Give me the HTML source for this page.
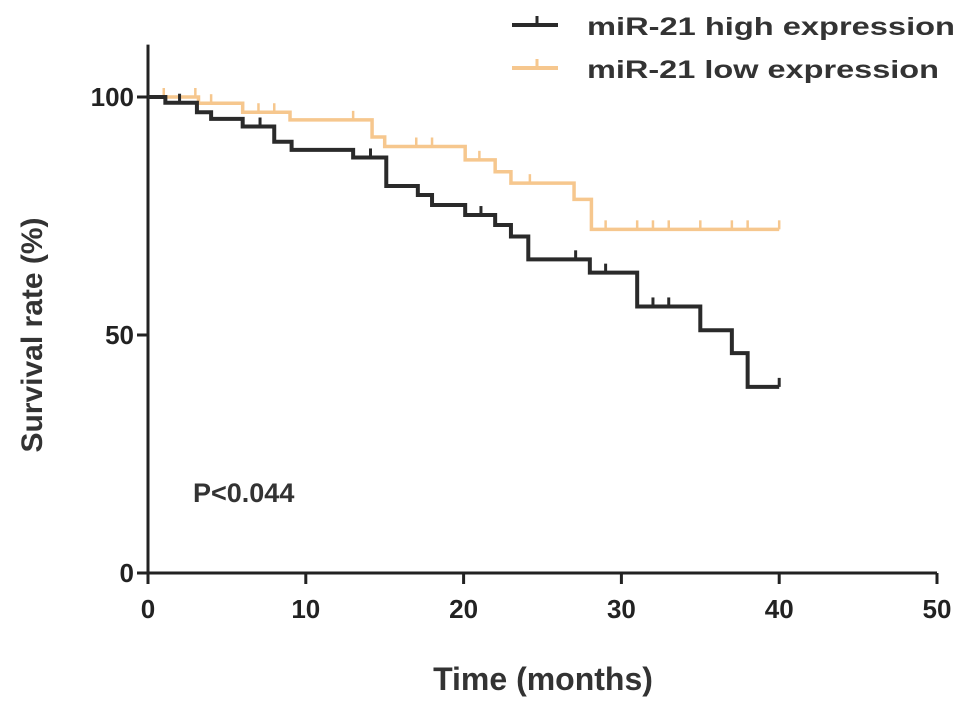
<!DOCTYPE html>
<html><head><meta charset="utf-8"><style>
body{margin:0;background:#fff;}
svg text{font-family:"Liberation Sans",sans-serif;font-weight:bold;}
</style></head><body>
<svg id="chart" width="969" height="711" viewBox="0 0 969 711"></svg>
<script>
const xTicks=[0,10,20,30,40,50];
const yTicks=[0,50,100];
const highTimes=[0,1.1,3.1,4,6,8,9.1,13,15.1,17.1,18,20.1,22,23,24.1,28,31,35,37,38,40];
const highSurv=[100,98.8,96.8,95.4,93.8,90.6,88.9,87.3,81.3,79.4,77.3,75.2,73.1,70.7,65.9,63.1,56,51,46.2,39.1,39.1];
const highCensor=[2,7.1,14.1,21.1,27.1,29,32,33,40];
const lowTimes=[0,3.2,6,9,14.2,15,20.1,22,23,27,28.1,40];
const lowSurv=[100,98.7,96.8,95.2,91.6,89.6,86.8,84.3,81.9,78.5,72.2,72.2];
const lowCensor=[1,3,4,7,8,13,17,18,21,24.2,29,31,32,33,35,37,38,40];
const NS='http://www.w3.org/2000/svg';
const svg=document.getElementById('chart');
const X=t=>148+t*15.78, Y=s=>573-s*4.76;
function mk(tag,attrs,parent){const e=document.createElementNS(NS,tag);for(const k in attrs)e.setAttribute(k,attrs[k]);(parent||svg).appendChild(e);return e;}
function txt(s,attrs){const e=mk('text',attrs);e.textContent=s;return e;}
let ax=mk('path',{d:`M${X(0)} ${Y(111)} V${Y(0)} H${X(50)}`,fill:'none',stroke:'#222','stroke-width':3});


xTicks.forEach(v=>{
 let l=mk('line',{x1:X(v),x2:X(v),y1:Y(0),y2:Y(0)+11,stroke:'#222','stroke-width':3});
 
 
 let t=txt(v,{x:X(v),y:618,'font-size':26,'text-anchor':'middle',fill:'#222'});
 
 
});
yTicks.forEach(v=>{
 let l=mk('line',{x1:X(0)-11,x2:X(0),y1:Y(v),y2:Y(v),stroke:'#222','stroke-width':3});
 
 
 let t=txt(v,{x:X(0)-14,y:Y(v)+9,'font-size':26,'text-anchor':'end',fill:'#222'});
 
 
});
function curve(times,surv,cens,color,w,name){
 let d=`M${X(times[0])} ${Y(surv[0])}`;
 for(let i=1;i<times.length;i++){d+=` H${X(times[i])} V${Y(surv[i])}`;}
 let p=mk('path',{d,fill:'none',stroke:color,'stroke-width':w});
 
 
 cens.forEach(c=>{
  let s=surv[0];for(let i=0;i<times.length;i++){if(times[i]<=c)s=surv[i];}
  let m=mk('line',{x1:X(c),x2:X(c),y1:Y(s),y2:Y(s)-9,stroke:color,'stroke-width':w-1});
  
  
 });
}
curve(lowTimes,lowSurv,lowCensor,'#f6c78e',3.5,'low-expression');
curve(highTimes,highSurv,highCensor,'#2a2a2a',4,'high-expression');
let g1=mk('line',{x1:512,x2:558,y1:25,y2:25,stroke:'#2a2a2a','stroke-width':4});

mk('line',{x1:537,x2:537,y1:25,y2:16,stroke:'#2a2a2a','stroke-width':3});
let l1=txt('miR-21 high expression',{x:587,y:35,'font-size':25,fill:'#333',textLength:368,lengthAdjust:'spacingAndGlyphs'});

let g2=mk('line',{x1:512,x2:558,y1:68,y2:68,stroke:'#f6c78e','stroke-width':4});

mk('line',{x1:537,x2:537,y1:68,y2:59,stroke:'#f6c78e','stroke-width':3});
let l2=txt('miR-21 low expression',{x:587,y:78,'font-size':25,fill:'#333',textLength:352,lengthAdjust:'spacingAndGlyphs'});

let xt=txt('Time (months)',{x:543,y:690,'font-size':32,'text-anchor':'middle',fill:'#333'});

let yt=txt('Survival rate  (%)',{x:0,y:0,'font-size':30,'text-anchor':'middle',fill:'#333',transform:'translate(42,335) rotate(-90)'});

let pv=txt('P<0.044',{x:193,y:502,'font-size':27,fill:'#333'});

</script>
</body></html>
